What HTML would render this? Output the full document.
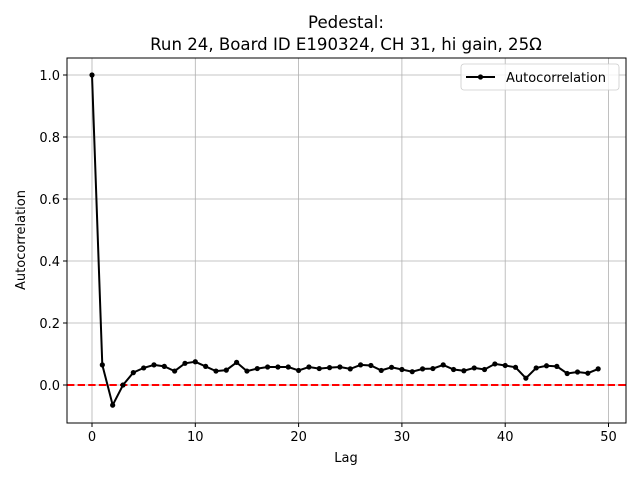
<!DOCTYPE html>
<html><head><meta charset="utf-8"><style>body{margin:0;background:#fff}svg{display:block}text{font-family:"DejaVu Sans","Liberation Sans",sans-serif}</style></head>
<body>
<svg id="s" width="640" height="480" xmlns="http://www.w3.org/2000/svg">
<rect width="640" height="480" fill="#fff"/>
<g id="grid" stroke="#b0b0b0" stroke-width="0.8"></g>
<line x1="67" y1="385" x2="626" y2="385" stroke="#ff0000" stroke-width="2" stroke-dasharray="7.4,3.2"/>
<polyline id="pl" fill="none" stroke="#000" stroke-width="2"/>
<g id="pts" fill="#000"></g>
<rect x="67" y="58" width="559" height="365" fill="none" stroke="#000" stroke-width="1"/>
<g id="ticks" stroke="#000" stroke-width="1"></g>
<g id="lbl" font-size="13" fill="#000"></g>
<text x="346" y="28" font-size="16.6" text-anchor="middle">Pedestal:</text>
<text x="346" y="50" font-size="16.6" text-anchor="middle">Run 24, Board ID E190324, CH 31, hi gain, 25Ω</text>
<text x="346" y="462" font-size="13" text-anchor="middle">Lag</text>
<text transform="translate(25,240) rotate(-90)" font-size="13" text-anchor="middle">Autocorrelation</text>
<rect x="461" y="64" width="158" height="26" rx="3" fill="#fff" fill-opacity="0.8" stroke="#ccc" stroke-width="0.8"/>
<line x1="466" y1="77" x2="495" y2="77" stroke="#000" stroke-width="2"/>
<circle cx="480.5" cy="77" r="2.6" fill="#000"/>
<text x="506" y="82" font-size="13">Autocorrelation</text>
</svg>
<script>
var v=[1.0,0.065,-0.065,0.0,0.04,0.055,0.065,0.06,0.045,0.07,0.075,0.06,0.045,0.048,0.073,0.045,0.053,0.058,0.058,0.058,0.047,0.058,0.053,0.056,0.058,0.052,0.065,0.063,0.047,0.057,0.05,0.043,0.052,0.053,0.065,0.05,0.046,0.055,0.05,0.068,0.063,0.057,0.022,0.055,0.062,0.06,0.037,0.042,0.038,0.052];
var NS="http://www.w3.org/2000/svg";
function X(l){return 92+10.33*l}function Y(a){return 385-310*a}
function el(p,t,a,txt){var e=document.createElementNS(NS,t);for(var k in a)e.setAttribute(k,a[k]);if(txt!=null)e.textContent=txt;document.getElementById(p).appendChild(e);}
var pts=v.map(function(a,i){return X(i).toFixed(1)+","+Y(a).toFixed(1)}).join(" ");
document.getElementById("pl").setAttribute("points",pts);
v.forEach(function(a,i){el("pts","circle",{cx:X(i),cy:Y(a),r:2.6})});
[0,10,20,30,40,50].forEach(function(t){var x=X(t);el("grid","line",{x1:x,y1:58,x2:x,y2:423});el("ticks","line",{x1:x,y1:423,x2:x,y2:427});el("lbl","text",{x:x,y:441,"text-anchor":"middle"},String(t));});
[[0,"0.0"],[0.2,"0.2"],[0.4,"0.4"],[0.6,"0.6"],[0.8,"0.8"],[1.0,"1.0"]].forEach(function(t){var y=Y(t[0]);el("grid","line",{x1:67,y1:y,x2:626,y2:y});el("ticks","line",{x1:63,y1:y,x2:67,y2:y});el("lbl","text",{x:60,y:y+5,"text-anchor":"end"},t[1]);});
</script>
</body></html>
